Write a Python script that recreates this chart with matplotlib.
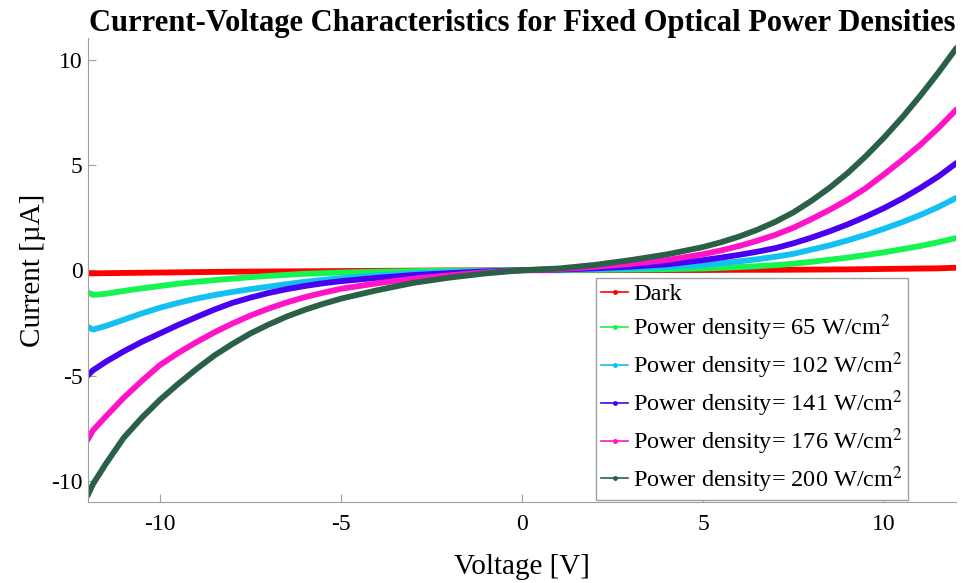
import matplotlib
matplotlib.use("Agg")
import matplotlib.pyplot as plt
from matplotlib.lines import Line2D

# voltage sweep [V]
voltage = [-12, -11.85, -11.5, -11, -10.5, -10, -9.5, -9, -8.5, -8, -7.5, -7,
           -6.5, -6, -5.5, -5, -4, -3, -2, -1, 0, 1, 2, 3, 4, 5, 5.5, 6, 6.5,
           7, 7.5, 8, 8.5, 9, 9.5, 10, 10.5, 11, 11.5, 12]

# currents [uA]
dark = [-0.15, -0.15, -0.14, -0.13, -0.12, -0.11, -0.1, -0.09, -0.08, -0.07, -0.065, -0.06,
        -0.055, -0.05, -0.045, -0.04, -0.03, -0.02, -0.01, -0.005, 0, 0.0, 0.005, 0.005,
        0.01, 0.01, 0.015, 0.02, 0.02,
        0.02, 0.025, 0.03, 0.035, 0.04, 0.05, 0.06, 0.07, 0.08, 0.09, 0.12]
pd65 = [-1.05, -1.17, -1.12, -0.98, -0.86, -0.75, -0.64, -0.55, -0.47, -0.4, -0.33, -0.27,
        -0.22, -0.17, -0.14, -0.11, -0.07, -0.04, -0.02, -0.01, 0, 0.01, 0.02, 0.03,
        0.05, 0.08, 0.11, 0.15, 0.19,
        0.24, 0.31, 0.4, 0.5, 0.6, 0.72, 0.85, 1.0, 1.15, 1.33, 1.53]
pd102 = [-2.68, -2.82, -2.65, -2.35, -2.05, -1.78, -1.55, -1.35, -1.18, -1.03, -0.9, -0.78,
         -0.66, -0.55, -0.46, -0.38, -0.25, -0.15, -0.08, -0.03, 0, 0.02, 0.05, 0.09,
         0.15, 0.25, 0.33, 0.42, 0.52,
         0.64, 0.78, 0.98, 1.18, 1.42, 1.68, 1.97, 2.28, 2.62, 3.0, 3.44]
pd141 = [-5.0, -4.75, -4.35, -3.85, -3.4, -3.0, -2.6, -2.23, -1.87, -1.55, -1.3, -1.08,
         -0.9, -0.75, -0.62, -0.52, -0.36, -0.23, -0.14, -0.06, 0, 0.03, 0.09, 0.17,
         0.28, 0.48, 0.6, 0.73, 0.88,
         1.05, 1.28, 1.55, 1.85, 2.18, 2.55, 2.95, 3.4, 3.9, 4.45, 5.09]
pd176 = [-8.05, -7.6, -6.95, -6.05, -5.25, -4.5, -3.93, -3.42, -2.95, -2.53, -2.15, -1.82,
         -1.53, -1.28, -1.07, -0.88, -0.62, -0.4, -0.24, -0.1, 0, 0.05, 0.16, 0.3,
         0.48, 0.76, 0.94, 1.15, 1.4,
         1.68, 2.02, 2.43, 2.87, 3.35, 3.9, 4.55, 5.23, 5.95, 6.75, 7.63]
pd200 = [-10.7, -10.15, -9.2, -7.95, -7.0, -6.15, -5.4, -4.7, -4.05, -3.5, -3.0, -2.58,
         -2.2, -1.88, -1.6, -1.35, -0.95, -0.6, -0.35, -0.15, 0, 0.08, 0.25, 0.48,
         0.75, 1.1, 1.33, 1.6, 1.92,
         2.3, 2.75, 3.3, 3.92, 4.62, 5.42, 6.3, 7.25, 8.28, 9.38, 10.55]

series = [dark, pd65, pd102, pd141, pd176, pd200]
labels = ["Dark",
          r"Power density= 65 W/cm$^2$",
          r"Power density= 102 W/cm$^2$",
          r"Power density= 141 W/cm$^2$",
          r"Power density= 176 W/cm$^2$",
          r"Power density= 200 W/cm$^2$"]
colors = ["#ff0000", "#14f54f", "#12c0f2", "#4a00f0", "#ff14c8", "#2a6045"]

plt.rcParams['font.family'] = ['Liberation Serif', 'DejaVu Serif']
plt.rcParams['mathtext.fontset'] = 'stix'
plt.rcParams['axes.unicode_minus'] = False
axis_grey = "#a0a0a0"

fig = plt.figure(figsize=(9.74, 5.83), dpi=100)
ax = fig.add_axes([0.0899, 0.139, 0.8921, 0.795])

for y, c in zip(series, colors):
    ax.plot(voltage, y, color=c, lw=4.2, solid_capstyle='round', solid_joinstyle='round')

ax.set_xlim(-12, 12)
ax.set_ylim(-11, 11)
ax.set_xticks([-10, -5, 0, 5, 10])
ax.set_yticks([-10, -5, 0, 5, 10])

for side in ['top', 'right']:
    ax.spines[side].set_visible(False)
for side in ['left', 'bottom']:
    ax.spines[side].set_color(axis_grey)
ax.tick_params(direction='in', length=6, color=axis_grey, labelsize=17, labelcolor='black')
ax.tick_params(axis='x', pad=9)

ax.set_xlabel("Voltage [V]", fontsize=21, labelpad=13)
ax.set_ylabel("Current [µA]", fontsize=21, labelpad=4)
ax.set_title("Current-Voltage Characteristics for Fixed Optical Power Densities",
             fontsize=22, fontweight='bold', pad=5)

handles = [Line2D([0], [0], color=c, lw=1.2, marker='o', markersize=2.5) for c in colors]
leg = ax.legend(handles, labels, loc='lower right', bbox_to_anchor=(0.944, 0.005),
                fontsize=17.5, frameon=True, fancybox=False, framealpha=1,
                handlelength=1.1, handletextpad=0.2, labelspacing=0.3, borderpad=0.2,
                borderaxespad=0)
leg.get_frame().set_edgecolor(axis_grey)
leg.get_frame().set_linewidth(1.0)

fig.savefig("out.png", dpi=100)
